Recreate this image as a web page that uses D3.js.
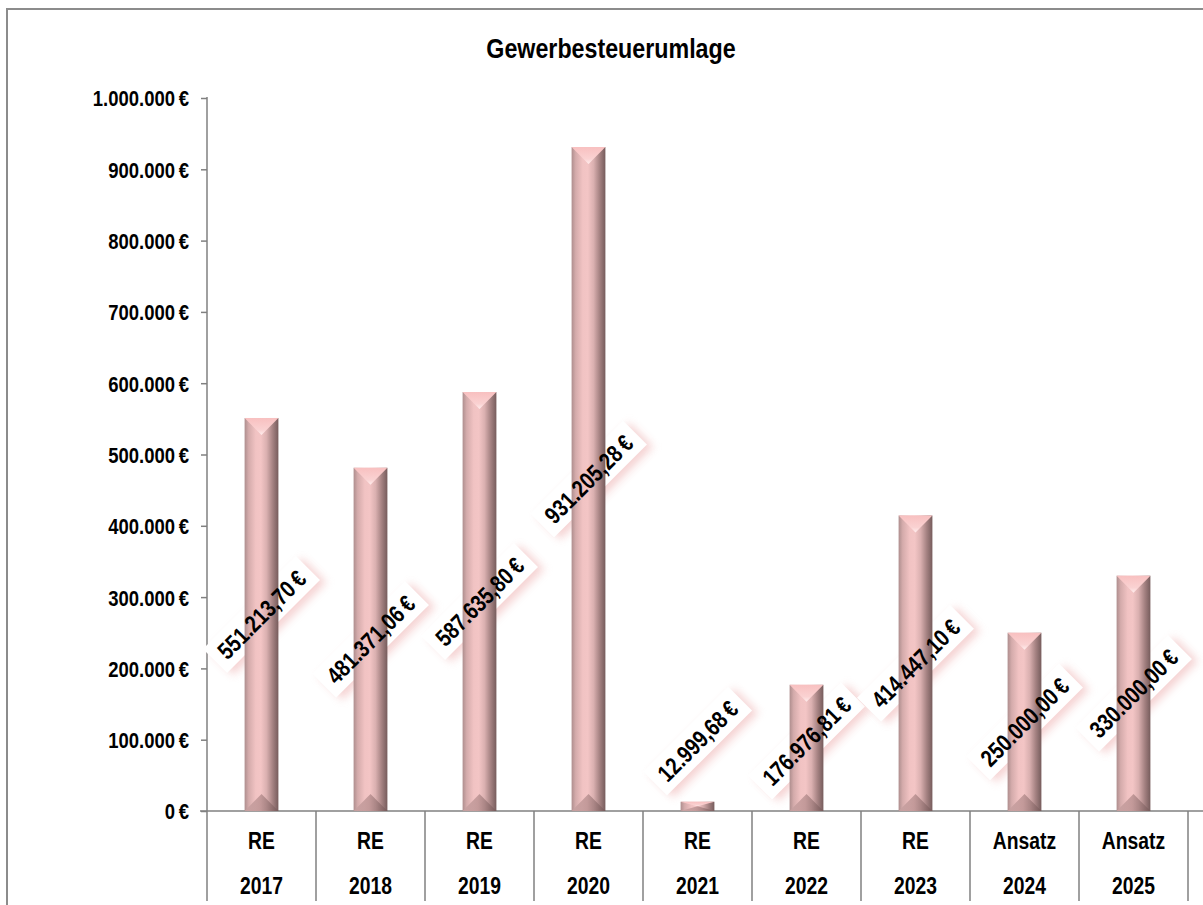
<!DOCTYPE html>
<html>
<head>
<meta charset="utf-8">
<script src="https://cdn.jsdelivr.net/npm/d3@7"></script>
<style>
  body { margin: 0; background: #ffffff; }
  svg { display: block; }
  text { font-family: "Liberation Sans", Arial, sans-serif; font-weight: bold; fill: #000; }
</style>
</head>
<body>
<svg id="chart" width="1203" height="905"></svg>
<script>
// Gewerbesteuerumlage: Rechnungsergebnisse (RE) und Ansätze
const title = "Gewerbesteuerumlage";
const catKind = ["RE", "RE", "RE", "RE", "RE", "RE", "RE", "Ansatz", "Ansatz"];
const catYear = ["2017", "2018", "2019", "2020", "2021", "2022", "2023", "2024", "2025"];
const values = [551213.70, 481371.06, 587635.80, 931205.28, 12999.68, 176976.81, 414447.10, 250000.00, 330000.00];
const yTicks = [0, 100000, 200000, 300000, 400000, 500000, 600000, 700000, 800000, 900000, 1000000];

const categories = catKind.map((k, i) => k + " " + catYear[i]);
const rows = categories.map((c, i) => ({ cat: c, kind: catKind[i], year: catYear[i], value: values[i] }));

const de = d3.formatLocale({ decimal: ",", thousands: ".", grouping: [3], currency: ["", "\u2009€"] });
const fmtTick = de.format("$,.0f");
const fmtValue = de.format("$,.2f");

const svg = d3.select("#chart");
const W = 1203, H = 905;
const plot = { left: 207, right: 1188, top: 98, bottom: 811 };

// narrow lettering: squeeze each text horizontally
function narrow(sel, factor) {
  sel.each(function () {
    const len = this.getComputedTextLength();
    d3.select(this).attr("textLength", len * factor).attr("lengthAdjust", "spacingAndGlyphs");
  });
}

const x = d3.scaleBand().domain(categories).range([plot.left, plot.right]).paddingInner(0.69).paddingOuter(0.345);
const cells = d3.scaleBand().domain(categories).range([plot.left, plot.right]).padding(0);
const y = d3.scaleLinear().domain([0, 1000000]).range([plot.bottom, plot.top]);

// ---- definitions: bar shading and label shadow ----
const defs = svg.append("defs");
const body = defs.append("linearGradient").attr("id", "barBody").attr("x1", 0).attr("x2", 1).attr("y1", 0).attr("y2", 0);
[[0, "#ae8e8e"], [0.12, "#d4abab"], [0.33, "#f1c3c3"], [0.48, "#f3c5c5"], [0.65, "#dab0b0"], [0.83, "#a58282"], [1, "#765c5c"]]
  .forEach(([o, c]) => body.append("stop").attr("offset", o).attr("stop-color", c));
const topG = defs.append("linearGradient").attr("id", "barTop").attr("x1", 0).attr("x2", 0).attr("y1", 0).attr("y2", 1);
[[0, "#f8c0c0"], [0.7, "#fad2d2"], [1, "#ffeeee"]].forEach(([o, c]) => topG.append("stop").attr("offset", o).attr("stop-color", c));
const botG = defs.append("linearGradient").attr("id", "barBottom").attr("x1", 0).attr("x2", 1).attr("y1", 0).attr("y2", 0);
[[0, "#c9a3a3"], [0.45, "#b48c8c"], [1, "#745858"]].forEach(([o, c]) => botG.append("stop").attr("offset", o).attr("stop-color", c));

const shadow = defs.append("filter").attr("id", "labelShadow").attr("x", "-30%").attr("y", "-80%").attr("width", "160%").attr("height", "260%");
shadow.append("feGaussianBlur").attr("in", "SourceGraphic").attr("stdDeviation", 4);

// ---- frame ----
svg.append("path")
  .attr("d", `M7,${H} V9 H${W}`)
  .attr("fill", "none").attr("stroke", "#8c8c8c").attr("stroke-width", 2);

// ---- title ----
svg.append("text")
  .attr("x", 611).attr("y", 58)
  .attr("text-anchor", "middle")
  .style("font-size", "28px")
  .text(title)
  .call(narrow, 0.83);

// ---- y axis ----
const yAxis = svg.append("g")
  .attr("transform", `translate(${plot.left},0)`)
  .call(d3.axisLeft(y).tickValues(yTicks).tickFormat(fmtTick).tickSize(6).tickPadding(12).tickSizeOuter(0));
yAxis.selectAll("path, line").attr("stroke", "#808080").attr("stroke-width", 1.5);
yAxis.selectAll("text").style("font-size", "22px").style("font-family", null).attr("dy", "0.36em").call(narrow, 0.84);
yAxis.select(".domain").attr("d", `M0,${plot.bottom}V${plot.top - 1}`);

// ---- category cells below the baseline ----
const bounds = categories.map(c => cells(c)).concat([plot.right]);
svg.append("g").selectAll("line").data(bounds).join("line")
  .attr("x1", d => d).attr("x2", d => d)
  .attr("y1", plot.bottom).attr("y2", 901)
  .attr("stroke", "#808080").attr("stroke-width", 1.5);

svg.append("line")
  .attr("x1", 200).attr("x2", W)
  .attr("y1", plot.bottom).attr("y2", plot.bottom)
  .attr("stroke", "#808080").attr("stroke-width", 1.5);

const catLabels = svg.append("g").selectAll("g").data(rows).join("g")
  .attr("transform", d => `translate(${cells(d.cat) + cells.bandwidth() / 2},0)`);
catLabels.append("text").attr("y", 849).attr("text-anchor", "middle").style("font-size", "23px").text(d => d.kind).call(narrow, 0.84);
catLabels.append("text").attr("y", 894).attr("text-anchor", "middle").style("font-size", "23px").text(d => d.year).call(narrow, 0.84);

// ---- value labels: positions ----
const labelFont = 24;
const labelPos = rows.map(d => {
  const mid = (y(d.value) + y(0)) / 2;
  return { cx: x(d.cat) + x.bandwidth() / 2, cy: Math.min(mid, y(0) - 70), text: fmtValue(d.value) };
});

// label boxes sit behind the bars, text in front
const boxLayer = svg.append("g");
const barLayer = svg.append("g");
const textLayer = svg.append("g");

const texts = textLayer.selectAll("text").data(labelPos).join("text")
  .attr("transform", d => `translate(${d.cx},${d.cy}) rotate(-45)`)
  .attr("text-anchor", "middle")
  .attr("dy", "0.36em")
  .style("font-size", labelFont + "px")
  .text(d => d.text);

texts.each(function (d) { d.w = this.getComputedTextLength() * 0.82; });
texts.attr("textLength", d => d.w).attr("lengthAdjust", "spacingAndGlyphs");

const boxes = boxLayer.selectAll("g").data(labelPos).join("g")
  .attr("transform", d => `translate(${d.cx},${d.cy}) rotate(-45)`);
boxes.append("rect")
  .attr("x", d => -d.w / 2 - 9 + 3).attr("y", -17 + 6)
  .attr("width", d => d.w + 18).attr("height", 34)
  .attr("fill", "#efb6b6").attr("opacity", 0.6)
  .attr("filter", "url(#labelShadow)");
boxes.append("rect")
  .attr("x", d => -d.w / 2 - 9).attr("y", -17)
  .attr("width", d => d.w + 18).attr("height", 34)
  .attr("fill", "#ffffff");

// ---- bars ----
const bars = barLayer.selectAll("g").data(rows).join("g");
bars.each(function (d) {
  const g = d3.select(this);
  const x0 = x(d.cat), bw = x.bandwidth(), x1 = x0 + bw, xc = x0 + bw / 2;
  const top = y(d.value), bot = y(0), h = bot - top;
  const bev = Math.min(17, h / 2);
  const bevB = Math.min(17, h / 2);
  g.append("rect").attr("x", x0).attr("y", top).attr("width", bw).attr("height", h).attr("fill", "url(#barBody)");
  g.append("path")
    .attr("d", `M${x0},${top} L${x1},${top} L${xc},${top + bev} Z`)
    .attr("fill", "url(#barTop)");
  g.append("path")
    .attr("d", `M${x0},${bot} L${x1},${bot} L${xc},${bot - bevB} Z`)
    .attr("fill", "url(#barBottom)").attr("opacity", 0.75);
});
</script>
</body>
</html>
